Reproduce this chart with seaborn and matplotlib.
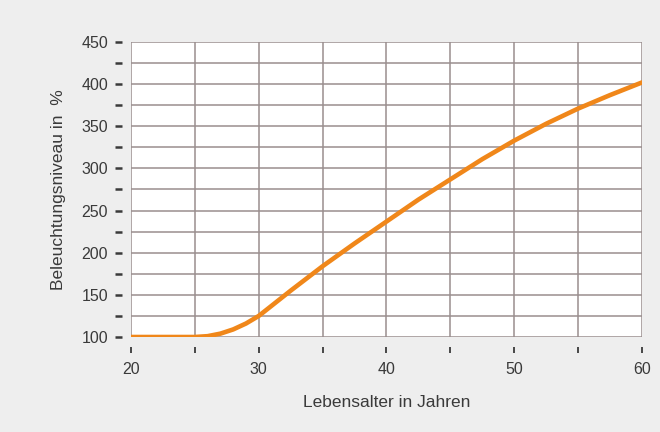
import numpy as np
import pandas as pd
import matplotlib
matplotlib.use("Agg")
import matplotlib.pyplot as plt
from matplotlib.ticker import MultipleLocator
import seaborn as sb

# values
alter = [20, 22.5, 25, 26, 27, 28, 29, 30, 31, 32.5, 35, 37.5, 40, 42.5, 45, 47.5, 50, 52.5, 55, 57.5, 60]
niveau = [100, 100, 100, 101, 104, 109, 116, 125, 137, 155, 184, 211, 237, 263, 287, 311, 333, 353, 371, 387, 402]

df = pd.DataFrame({'alter': alter, 'niveau': niveau})

sb.set_style('white')
plt.rcParams['font.family'] = ['Liberation Sans Narrow', 'Liberation Sans', 'DejaVu Sans']

bg = '#eeeeee'
gridcol = '#9a8e8e'
textcol = '#3a3a3a'

fig = plt.figure(figsize=(6.6, 4.32), dpi=100)
fig.patch.set_facecolor(bg)
ax = fig.add_axes([0.1985, 0.2199, 0.7742, 0.6829])
ax.set_facecolor('white')

sb.lineplot(data=df, x='alter', y='niveau', ax=ax, color='#f0871a', linewidth=3.3, zorder=5)

ax.set_xlim(20, 60)
ax.set_ylim(100, 450)

ax.xaxis.set_major_locator(MultipleLocator(10))
ax.xaxis.set_minor_locator(MultipleLocator(5))
ax.yaxis.set_major_locator(MultipleLocator(50))
ax.yaxis.set_minor_locator(MultipleLocator(25))

ax.grid(which='both', color=gridcol, linewidth=1.1)
ax.set_axisbelow(True)

for s in ax.spines.values():
    s.set_visible(False)
ax.spines['left'].set_position(('outward', 6.5))
ax.spines['bottom'].set_position(('outward', 7))

ax.tick_params(axis='y', which='both', direction='out', length=5, width=1.8, color=textcol,
               left=True, labelsize=11.5, labelcolor=textcol, pad=5)
ax.tick_params(axis='x', which='both', direction='out', length=4.2, width=1.3, color=textcol,
               bottom=True, labelsize=11.5, labelcolor=textcol, pad=7)

ax.set_xlabel('Lebensalter in Jahren', fontsize=12.5, color=textcol, labelpad=13)
ax.set_ylabel('Beleuchtungsniveau in  %', fontsize=12.5, color=textcol, labelpad=11)

fig.savefig('out.png', dpi=100, facecolor=bg)
